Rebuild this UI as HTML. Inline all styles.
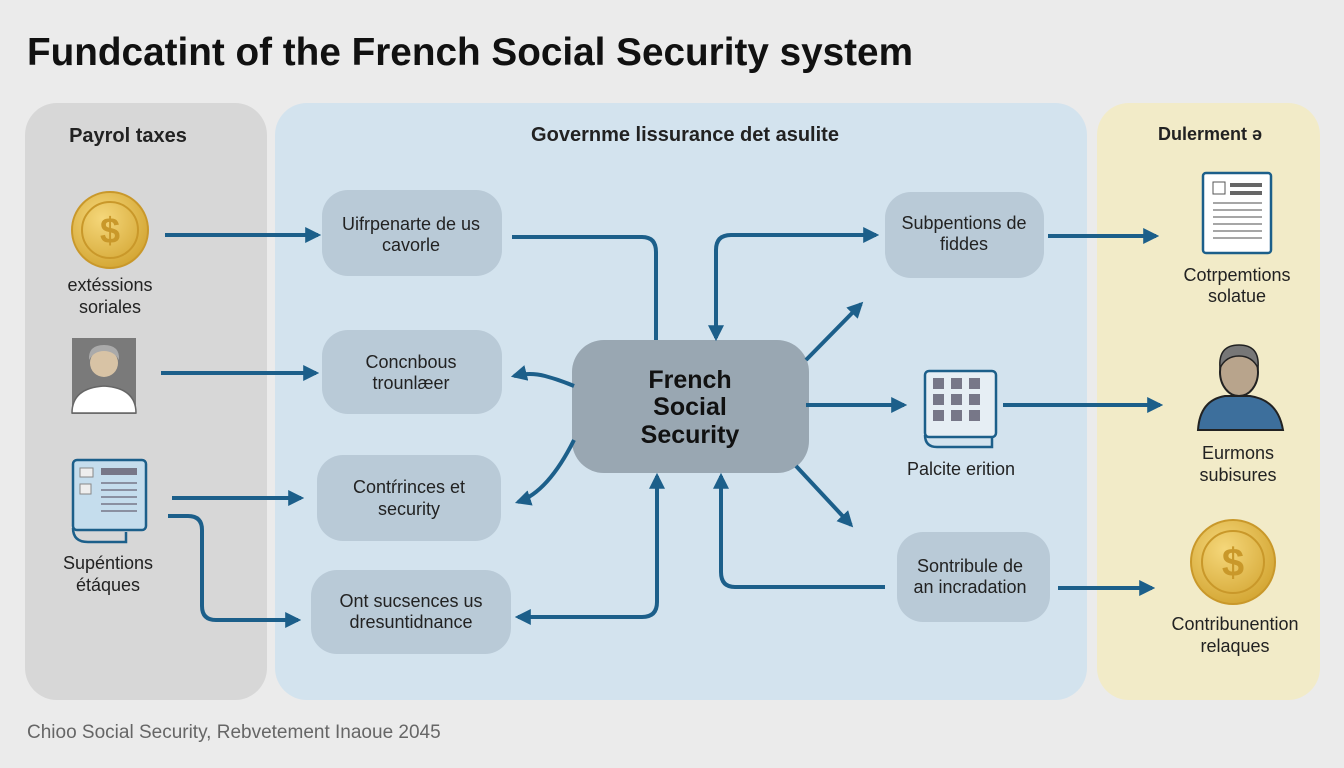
<!DOCTYPE html>
<html><head><meta charset="utf-8"><style>
html,body{margin:0;padding:0;width:1344px;height:768px;overflow:hidden;background:#ebebeb}
svg{display:block}
text{font-family:"Liberation Sans",sans-serif}
</style></head><body>
<svg width="1344" height="768" viewBox="0 0 1344 768" xmlns="http://www.w3.org/2000/svg">
<defs>
<marker id="a" viewBox="0 0 10 10" refX="8" refY="5" markerWidth="4" markerHeight="4" orient="auto-start-reverse"><path d="M0,0 L10,5 L0,10 z" fill="#1c5f8a"/></marker>
<radialGradient id="g" cx="40%" cy="35%" r="70%"><stop offset="0" stop-color="#f5d77a"/><stop offset="1" stop-color="#d3a532"/></radialGradient>
</defs>
<rect width="1344" height="768" fill="#ebebeb"/>
<text x="27" y="65" font-size="39" font-weight="bold" fill="#111" textLength="886" lengthAdjust="spacingAndGlyphs">Fundcatint of the French Social Security system</text>
<rect x="25" y="103" width="242" height="597" rx="32" fill="#d7d7d7"/>
<rect x="275" y="103" width="812" height="597" rx="32" fill="#d3e3ee"/>
<rect x="1097" y="103" width="223" height="597" rx="32" fill="#f2ebc8"/>
<g font-weight="bold" font-size="20" fill="#222" text-anchor="middle">
<text x="128" y="142">Payrol taxes</text>
<text x="685" y="141">Governme lissurance det asulite</text>
<text x="1210" y="140" font-size="18">Dulerment ə</text>
</g>
<g fill="#b9cad7">
<rect x="322" y="190" width="180" height="86" rx="26"/>
<rect x="322" y="330" width="180" height="84" rx="26"/>
<rect x="317" y="455" width="184" height="86" rx="26"/>
<rect x="311" y="570" width="200" height="84" rx="26"/>
<rect x="885" y="192" width="159" height="86" rx="26"/>
<rect x="897" y="532" width="153" height="90" rx="26"/>
</g>
<rect x="572" y="340" width="237" height="133" rx="32" fill="#99a7b2"/>
<g font-size="18" fill="#222" text-anchor="middle">
<text x="411" y="230">Uifrpenarte de us</text><text x="411" y="251">cavorle</text>
<text x="411" y="368">Concnbous</text><text x="411" y="389">trounlæer</text>
<text x="409" y="493">Contŕrinces et</text><text x="409" y="515">security</text>
<text x="411" y="607">Ont sucsences us</text><text x="411" y="628">dresuntidnance</text>
<text x="964" y="229">Subpentions de</text><text x="964" y="250">fiddes</text>
<text x="970" y="572">Sontribule de</text><text x="970" y="593">an incradation</text>
<text x="961" y="475">Palcite erition</text>
<text x="110" y="291">extéssions</text><text x="110" y="313">soriales</text>
<text x="108" y="569">Supéntions</text><text x="108" y="591">étáques</text>
<text x="1237" y="281">Cotrpemtions</text><text x="1237" y="302">solatue</text>
<text x="1238" y="459">Eurmons</text><text x="1238" y="481">subisures</text>
<text x="1235" y="630">Contribunention</text><text x="1235" y="652">relaques</text>
</g>
<g font-size="25" font-weight="bold" fill="#111" text-anchor="middle">
<text x="690" y="388">French</text><text x="690" y="415">Social</text><text x="690" y="443">Security</text>
</g>
<text x="27" y="738" font-size="19" fill="#666">Chioo Social Security, Rebvetement Inaoue 2045</text>
<g stroke="#1c5f8a" stroke-width="4" fill="none" stroke-linejoin="round">
<path d="M165,235 H318" marker-end="url(#a)"/>
<path d="M161,373 H316" marker-end="url(#a)"/>
<path d="M172,498 H301" marker-end="url(#a)"/>
<path d="M168,516 H188 Q202,516 202,530 V606 Q202,620 216,620 H298" marker-end="url(#a)"/>
<path d="M512,237 H642 Q656,237 656,252 V340"/>
<path d="M574,386 Q560,380 545,376 Q530,372 514,376" marker-end="url(#a)"/>
<path d="M574,440 Q548,492 518,502" marker-end="url(#a)"/>
<path d="M657,476 V602 Q657,617 642,617 H518" marker-start="url(#a)" marker-end="url(#a)"/>
<path d="M716,338 V250 Q716,235 731,235 H876" marker-start="url(#a)" marker-end="url(#a)"/>
<path d="M806,360 L861,304" marker-end="url(#a)"/>
<path d="M806,405 H904" marker-end="url(#a)"/>
<path d="M796,466 L851,525" marker-end="url(#a)"/>
<path d="M885,587 H735 Q721,587 721,572 V476" marker-end="url(#a)"/>
<path d="M1048,236 H1156" marker-end="url(#a)"/>
<path d="M1003,405 H1160" marker-end="url(#a)"/>
<path d="M1058,588 H1152" marker-end="url(#a)"/>
</g>
<circle cx="110" cy="230" r="38" fill="url(#g)" stroke="#c9982a" stroke-width="2"/>
<circle cx="110" cy="230" r="28" fill="none" stroke="#c9982a" stroke-width="2"/>
<text x="110" y="243" font-size="36" font-weight="bold" fill="#c9982a" text-anchor="middle">$</text>
<rect x="72" y="338" width="64" height="76" fill="#7a7a7a"/>
<circle cx="104" cy="363" r="14" fill="#d8c3a5"/>
<path d="M89,360 Q88,345 104,345 Q120,345 119,360 Q114,351 104,351 Q94,351 89,360z" fill="#aaa"/>
<path d="M72,413 Q72,388 104,386 Q136,388 136,413z" fill="#fff" stroke="#666" stroke-width="1.5"/>
<rect x="73" y="460" width="73" height="70" rx="4" fill="#c5dded" stroke="#1c5f8a" stroke-width="2.5"/>
<path d="M73,528 Q73,542 88,542 H126 V532" fill="none" stroke="#1c5f8a" stroke-width="2.5"/>
<rect x="80" y="468" width="13" height="9" fill="#eee" stroke="#888"/><rect x="80" y="484" width="11" height="10" fill="#eee" stroke="#888"/>
<rect x="101" y="468" width="36" height="7" fill="#778"/>
<g stroke="#778" stroke-width="1.5"><path d="M101,483H137M101,490H137M101,497H137M101,504H137M101,511H137"/></g>
<rect x="925" y="371" width="71" height="66" rx="4" fill="#e6eef4" stroke="#1c5f8a" stroke-width="2.5"/>
<path d="M925,435 Q925,447 937,447 H992 V438" fill="none" stroke="#1c5f8a" stroke-width="2.5"/>
<g fill="#778"><rect x="933" y="378" width="11" height="11"/><rect x="951" y="378" width="11" height="11"/><rect x="969" y="378" width="11" height="11"/><rect x="933" y="394" width="11" height="11"/><rect x="951" y="394" width="11" height="11"/><rect x="969" y="394" width="11" height="11"/><rect x="933" y="410" width="11" height="11"/><rect x="951" y="410" width="11" height="11"/><rect x="969" y="410" width="11" height="11"/></g>
<rect x="1203" y="173" width="68" height="80" rx="3" fill="#fff" stroke="#1c5f8a" stroke-width="2.5"/>
<rect x="1213" y="182" width="12" height="12" fill="#fff" stroke="#555"/>
<rect x="1230" y="183" width="32" height="4" fill="#666"/><rect x="1230" y="191" width="32" height="4" fill="#666"/>
<g stroke="#888" stroke-width="1.5"><path d="M1213,203H1262M1213,210H1262M1213,217H1262M1213,224H1262M1213,231H1262M1213,238H1262"/></g>
<path d="M1198,430 Q1200,400 1225,396 L1250,396 Q1278,400 1283,430z" fill="#3d6f9c" stroke="#222" stroke-width="2"/>
<ellipse cx="1239" cy="372" rx="19" ry="24" fill="#b8a48c" stroke="#222" stroke-width="2"/>
<path d="M1220,368 Q1218,345 1239,345 Q1260,345 1258,368 Q1252,356 1239,356 Q1226,356 1220,368z" fill="#777" stroke="#222" stroke-width="1.5"/>
<circle cx="1233" cy="562" r="42" fill="url(#g)" stroke="#c9982a" stroke-width="2"/>
<circle cx="1233" cy="562" r="31" fill="none" stroke="#c9982a" stroke-width="2"/>
<text x="1233" y="576" font-size="40" font-weight="bold" fill="#c9982a" text-anchor="middle">$</text>
</svg>
</body></html>
